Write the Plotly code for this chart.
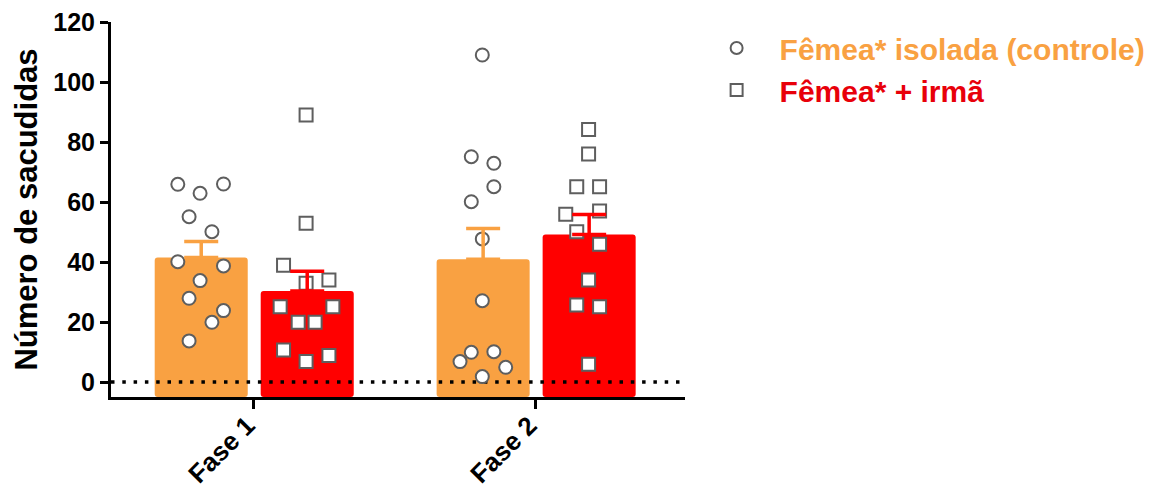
import numpy as np
import plotly.graph_objects as go

# ---- data -------------------------------------------------------------
phases = ["Fase 1", "Fase 2"]
series_names = ["Fêmea* isolada (controle)", "Fêmea* + irmã"]

# individual animals (number of shakes), one list per phase
isolada_fase1 = [65.9, 66.0, 62.9, 55.1, 50.1, 40.1, 38.7, 33.8, 27.9, 23.8, 19.9, 13.7]
isolada_fase2 = [109.0, 75.1, 72.9, 65.1, 60.1, 47.7, 27.1, 9.9, 10.1, 6.8, 4.9, 1.8]
irma_fase1 = [89.0, 52.9, 38.9, 32.9, 34.0, 25.1, 25.1, 19.9, 19.9, 10.7, 8.8, 6.8]
irma_fase2 = [84.2, 76.0, 65.1, 65.1, 55.9, 57.0, 50.1, 45.9, 34.0, 25.7, 25.1, 5.9]

y_ticks = [0, 20, 40, 60, 80, 100, 120]

# ---- layout helpers ---------------------------------------------------
# horizontal scatter of the dots inside each bar (x-axis units)
spread_isolada_f1 = [-0.083, 0.079, -0.004, -0.043, 0.038, -0.083, 0.079, -0.004, -0.043, 0.079, 0.038, -0.043]
spread_isolada_f2 = [-0.003, -0.042, 0.038, 0.038, -0.042, -0.003, -0.003, -0.042, 0.038, -0.082, 0.080, -0.003]
spread_irma_f1 = [-0.004, -0.004, -0.084, -0.004, 0.077, -0.096, 0.091, -0.032, 0.028, -0.084, 0.077, -0.004]
spread_irma_f2 = [-0.002, -0.002, -0.044, 0.037, -0.083, 0.037, -0.044, 0.037, -0.002, -0.044, 0.037, -0.002]

ORANGE = "#F9A142"
RED = "#FF0000"
RED_TEXT = "#E8000A"
EDGE = "#5E5E5E"
FONT = "Liberation Sans, Arial, sans-serif"

Y_MIN, Y_MAX = -5, 120
X_MIN, X_MAX = -0.505, 1.531
BAR_W = 0.33
OFFSETS = [-0.185, 0.191]

groups = [
    dict(name=series_names[0], data=[isolada_fase1, isolada_fase2],
         spread=[spread_isolada_f1, spread_isolada_f2], color=ORANGE,
         text_color=ORANGE, symbol="circle", size=13),
    dict(name=series_names[1], data=[irma_fase1, irma_fase2],
         spread=[spread_irma_f1, spread_irma_f2], color=RED,
         text_color=RED_TEXT, symbol="square", size=13),
]

fig = go.Figure()

# bars: mean per phase, drawn from the bottom of the axis
for g, off in zip(groups, OFFSETS):
    means = np.array([np.mean(v) for v in g["data"]])
    xs = [i + off for i in range(len(phases))]
    fig.add_trace(go.Bar(
        x=xs, y=means - Y_MIN, base=Y_MIN, width=BAR_W,
        marker=dict(color=g["color"], line=dict(width=0), cornerradius=3),
        showlegend=False, hoverinfo="skip",
    ))

# dotted reference line at zero
fig.add_trace(go.Scatter(
    x=[X_MIN, X_MAX], y=[0, 0], mode="lines",
    line=dict(color="black", width=3.5, dash="3.5px,7.8px"),
    showlegend=False, hoverinfo="skip",
))

# individual animals
for k, (g, off) in enumerate(zip(groups, OFFSETS)):
    xs, ys = [], []
    for i, (vals, spr) in enumerate(zip(g["data"], g["spread"])):
        xs += [i + off + s for s in spr]
        ys += list(vals)
    fig.add_trace(go.Scatter(
        x=xs, y=ys, mode="markers",
        name=f'<span style="color:{g["text_color"]}">{g["name"]}</span>',
        legendgroup=f"g{k}",
        marker=dict(symbol=g["symbol"], size=g["size"], color="white",
                    line=dict(color=EDGE, width=2)),
    ))

# SEM error bars (upper half only), drawn on top of the dots
for g, off in zip(groups, OFFSETS):
    means = [np.mean(v) for v in g["data"]]
    sems = [np.std(v, ddof=1) / np.sqrt(len(v)) for v in g["data"]]
    fig.add_trace(go.Scatter(
        x=[i + off for i in range(len(phases))], y=means, mode="markers",
        marker=dict(size=1, color="rgba(0,0,0,0)"),
        error_y=dict(type="data", symmetric=False, array=sems,
                     arrayminus=[0] * len(sems), color=g["color"],
                     thickness=3.5, width=17),
        showlegend=False, hoverinfo="skip",
    ))

fig.update_layout(
    width=1169, height=493,
    margin=dict(l=111, r=484, t=22, b=96),
    paper_bgcolor="white", plot_bgcolor="white",
    font=dict(family=FONT, size=25, color="black", weight="bold"),
    showlegend=True,
    legend=dict(
        x=1.015, y=1.0, xanchor="left", yanchor="top",
        font=dict(family=FONT, size=30, weight="bold"),
        traceorder="grouped", tracegroupgap=0, itemwidth=76,
        itemsizing="constant", bgcolor="rgba(0,0,0,0)",
    ),
    xaxis=dict(
        range=[X_MIN, X_MAX], automargin=False,
        tickmode="array", tickvals=list(range(len(phases))), ticktext=phases,
        tickangle=-45, ticks="outside", ticklen=9, tickwidth=3,
        tickcolor="black", showline=True, linewidth=3, linecolor="black",
        showgrid=False, zeroline=False,
        ticklabelstandoff=-9, ticklabelshift=-6,
        tickfont=dict(family=FONT, size=26, weight="bold"),
    ),
    yaxis=dict(
        range=[Y_MIN, Y_MAX], automargin=False,
        tickmode="array", tickvals=y_ticks,
        ticks="outside", ticklen=8, tickwidth=3, tickcolor="black",
        showline=True, linewidth=3, linecolor="black",
        showgrid=False, zeroline=False,
        tickfont=dict(family=FONT, size=25, weight="bold"),
        title=dict(text="Número de sacudidas", standoff=7,
                   font=dict(family=FONT, size=31, weight="bold")),
    ),
)

fig.write_html("out.html")
